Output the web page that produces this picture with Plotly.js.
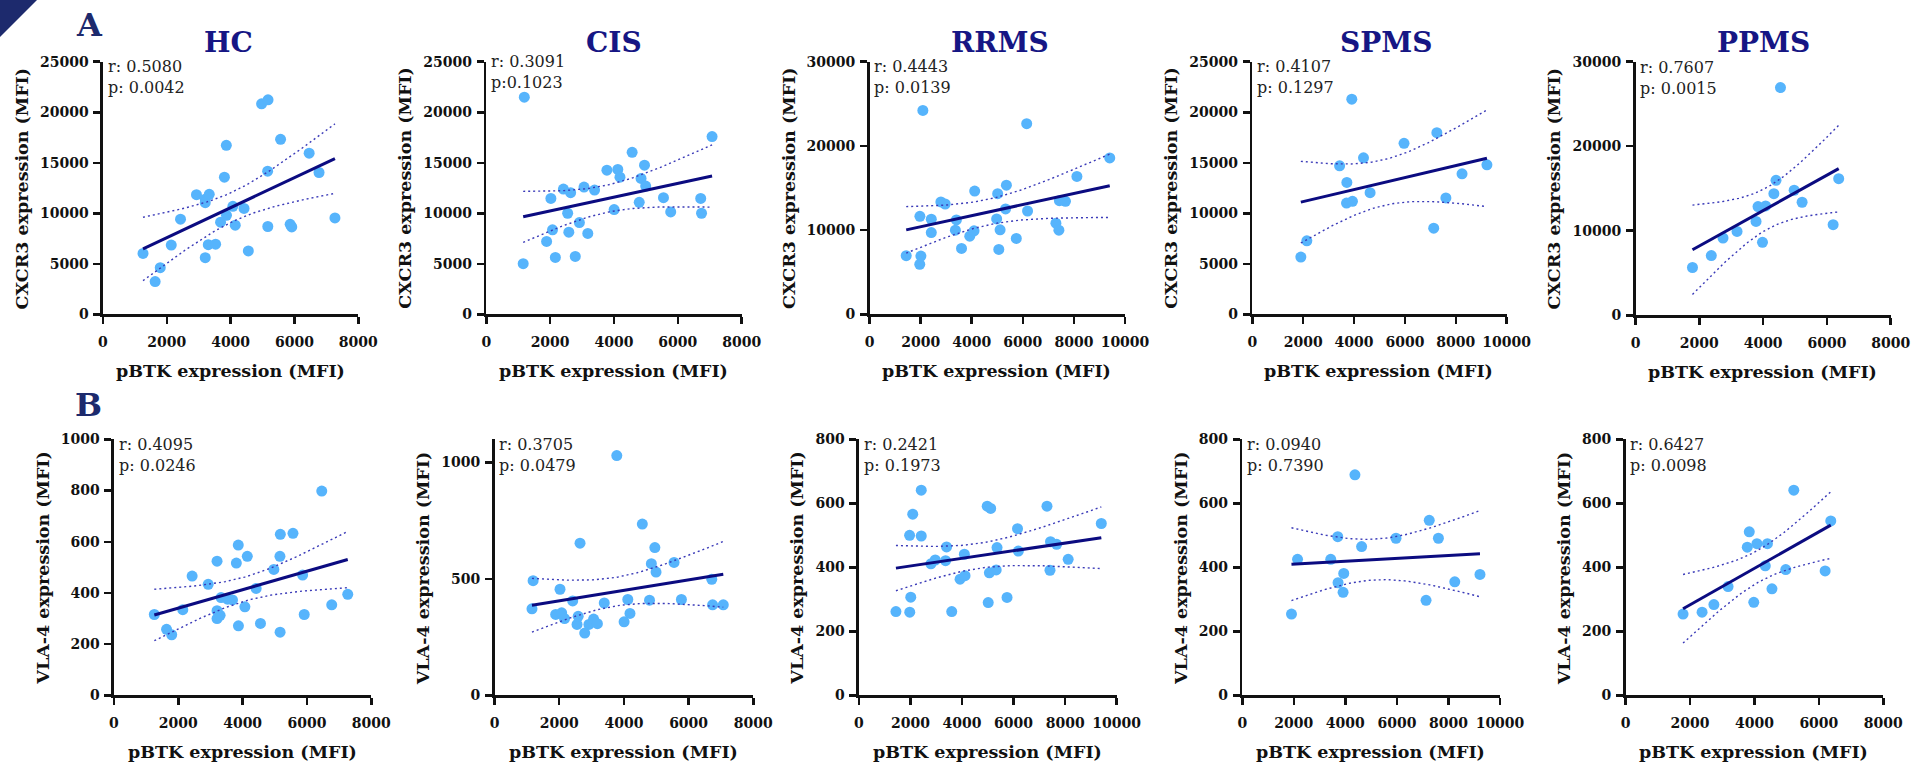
<!DOCTYPE html>
<html>
<head>
<meta charset="utf-8">
<script src="https://cdn.plot.ly/plotly-3.0.1.min.js"></script>
<style>html,body{margin:0;padding:0;background:#fff;}#chart{width:1911px;height:764px;}</style>
</head>
<body>
<div id="chart"></div>
<script>
// ---------------- DATA ----------------
const groupTitles = ['HC', 'CIS', 'RRMS', 'SPMS', 'PPMS'];

const hcPBTK  = [1255,1635,1795,2140,2430,2930,3205,3205,3205,3300,3330,3530,3685,3805,3865,3870,4070,4145,4420,4555,4970,5160,5165,5172,5565,5865,5915,6460,6770,7268];
const hcCXCR3 = [6040,3250,4630,6860,9420,11850,11400,11050,5620,6900,11880,6950,9130,13580,16730,9810,10700,8830,10490,6280,20830,14170,8700,21230,17320,8920,8660,15950,14040,9550];
const hcVLA4  = [316,258,237,335,466,434,524,331,300,313,382,376,373,517,587,272,346,543,418,281,492,543,247,629,633,470,316,798,354,395];

const cisPBTK  = [1157,1192,1890,2024,2075,2164,2416,2550,2586,2643,2788,2917,3062,3180,3392,3779,4005,4120,4187,4569,4791,4848,4956,4993,5550,5777,6716,6742,7072];
const cisCXCR3 = [5020,21490,7220,11480,8370,5640,12400,10010,8140,12040,5740,9090,12600,8010,12300,14270,10370,14340,13580,16040,11090,13450,14770,12700,11550,10140,11480,10010,17590];
const cisVLA4  = [372,493,348,456,355,330,406,305,340,654,268,305,328,308,397,1030,316,412,352,736,409,566,635,530,571,412,499,389,389];

const rrmsPBTK  = [1435,1965,1971,2010,2087,2417,2417,2792,2960,3360,3399,3600,3923,4090,4116,4976,5015,5060,5111,5325,5357,5745,6152,6185,7295,7412,7432,7670,8117,9403];
const rrmsCXCR3 = [6970,5950,11650,6930,24210,11300,9720,13350,13110,10000,11220,7840,9290,9920,14650,11340,14330,7720,10040,12520,15350,9020,22640,12280,10830,10000,13500,13430,16380,18580];
const rrmsVLA4  = [262,500,260,307,566,641,498,411,423,421,464,262,363,441,374,591,290,383,584,392,462,306,521,451,591,391,480,472,425,537];

const spmsPBTK  = [1910,2145,3433,3705,3718,3912,3938,4372,4631,5965,7131,7255,7610,8245,9223];
const spmsCXCR3 = [5680,7280,14700,11020,13060,21290,11190,15490,12040,16930,8530,17980,11520,13910,14800];
const spmsVLA4  = [254,425,425,496,352,322,381,689,465,491,297,547,491,355,378];

const ppmsPBTK  = [1785,2375,2742,3182,3778,3840,3980,4078,4337,4404,4544,4973,5222,6195,6370];
const ppmsCXCR3 = [5650,7060,9140,9920,11100,12860,8630,12940,14390,15960,26940,14790,13370,10710,16160];
const ppmsVLA4  = [254,260,284,340,463,511,291,474,405,474,333,393,641,389,545];

const rLabels = ['r: 0.5080','r: 0.3091','r: 0.4443','r: 0.4107','r: 0.7607','r: 0.4095','r: 0.3705','r: 0.2421','r: 0.0940','r: 0.6427'];
const pLabels = ['p: 0.0042','p:0.1023','p: 0.0139','p: 0.1297','p: 0.0015','p: 0.0246','p: 0.0479','p: 0.1973','p: 0.7390','p: 0.0098'];

const xTitle = 'pBTK expression (MFI)';
const yTitles = ['CXCR3 expression (MFI)', 'VLA-4 expression (MFI)'];

const xMax = [8000, 8000, 10000, 10000, 8000, 8000, 8000, 10000, 10000, 8000];
const yMax = [25000, 25000, 30000, 25000, 30000, 1000, 1100, 800, 800, 800];
const yStep = [5000, 5000, 10000, 5000, 10000, 200, 500, 200, 200, 200];

// two-sided 95% t critical values by degrees of freedom
const tCrit = {12: 2.1788, 13: 2.1604, 26: 2.0555, 27: 2.0518, 28: 2.0484};

// ---------------- LAYOUT HELPERS ----------------
const W = 1911, H = 764;
const px = v => v / W;
const py = v => 1 - v / H;

// plot boxes in pixels: [axisLeft, axisRight, axisTop, axisBottom]
const boxes = [
  [101.7, 358.3, 61.7, 315.7], [485, 741.7, 61.7, 315.7], [868.3, 1125, 61.7, 315.7],
  [1251, 1506.7, 61.7, 315.7], [1634.3, 1890.7, 61.7, 316.5],
  [112.7, 371.3, 439.3, 696.7], [493.3, 753.3, 439.3, 696.7], [857.7, 1116.7, 439.3, 696.7],
  [1241, 1500, 439.3, 696.7], [1624.3, 1883.3, 439.3, 696.7]
];
const yTitleOffset = [80, 80, 80, 80, 80, 70, 70, 61, 60, 60];
const titleX = [228, 614, 1000, 1386, 1763];
const statsTop = [5, 0, 5, 5, 6, 5, 5, 5, 5, 5];

const datasets = [
  [hcPBTK, hcCXCR3], [cisPBTK, cisCXCR3], [rrmsPBTK, rrmsCXCR3], [spmsPBTK, spmsCXCR3], [ppmsPBTK, ppmsCXCR3],
  [hcPBTK, hcVLA4], [cisPBTK, cisVLA4], [rrmsPBTK, rrmsVLA4], [spmsPBTK, spmsVLA4], [ppmsPBTK, ppmsVLA4]
];

function linearFit(xs, ys) {
  const n = xs.length;
  const mx = xs.reduce((a, b) => a + b, 0) / n;
  const my = ys.reduce((a, b) => a + b, 0) / n;
  let sxx = 0, sxy = 0;
  for (let i = 0; i < n; i++) { sxx += (xs[i] - mx) ** 2; sxy += (xs[i] - mx) * (ys[i] - my); }
  const b = sxy / sxx, a = my - b * mx;
  let ssr = 0;
  for (let i = 0; i < n; i++) ssr += (ys[i] - a - b * xs[i]) ** 2;
  const s = Math.sqrt(ssr / (n - 2));
  const t = tCrit[n - 2] || 2.05;
  const lo = Math.min(...xs), hi = Math.max(...xs);
  const gx = [], gy = [], up = [], dn = [];
  const steps = 60;
  for (let k = 0; k <= steps; k++) {
    const x = lo + (hi - lo) * k / steps;
    const yh = a + b * x;
    const se = s * Math.sqrt(1 / n + (x - mx) ** 2 / sxx);
    gx.push(x); gy.push(yh); up.push(yh + t * se); dn.push(yh - t * se);
  }
  return {gx, gy, up, dn};
}

const FONT = 'DejaVu Serif, Liberation Serif, serif';
const AXC = '#111111';
const traces = [];
const layout = {
  width: W, height: H,
  margin: {l: 0, r: 0, t: 0, b: 0},
  paper_bgcolor: '#ffffff', plot_bgcolor: '#ffffff',
  showlegend: false,
  annotations: [],
  shapes: [{
    type: 'path', xref: 'paper', yref: 'paper',
    path: `M 0 1 L ${px(37)} 1 L 0 ${py(37)} Z`,
    fillcolor: '#1d2a6d', line: {width: 0}
  }]
};

function ann(text, x, y, opts) {
  layout.annotations.push(Object.assign({
    text, x: px(x), y: py(y), xref: 'paper', yref: 'paper', showarrow: false,
    xanchor: 'center', yanchor: 'middle'
  }, opts));
}

datasets.forEach(([xs, ys], i) => {
  const [L, R, T, B] = boxes[i];
  const xa = i === 0 ? 'xaxis' : 'xaxis' + (i + 1);
  const ya = i === 0 ? 'yaxis' : 'yaxis' + (i + 1);
  const xr = i === 0 ? 'x' : 'x' + (i + 1);
  const yr = i === 0 ? 'y' : 'y' + (i + 1);
  const common = {
    showline: true, linewidth: 2.5, linecolor: AXC,
    ticks: 'outside', ticklen: 7, tickwidth: 2.5, tickcolor: AXC,
    showgrid: false, zeroline: false, tickformat: 'd', fixedrange: true,
    tickfont: {family: FONT, size: 14, weight: 'bold', color: AXC}
  };
  layout[xa] = Object.assign({}, common, {
    domain: [px(L + 1.25), px(R)], range: [0, xMax[i]], tick0: 0, dtick: 2000, anchor: yr,
    ticklabelstandoff: 6
  });
  layout[ya] = Object.assign({}, common, {
    domain: [py(B - 1.25), py(T)], range: [0, yMax[i]], tick0: 0, dtick: yStep[i], anchor: xr,
    ticklabelstandoff: 2
  });

  traces.push({
    type: 'scatter', mode: 'markers', x: xs, y: ys, xaxis: xr, yaxis: yr,
    marker: {size: 11, color: '#56b4fc', line: {width: 0}}, cliponaxis: false, hoverinfo: 'skip'
  });
  const f = linearFit(xs, ys);
  traces.push({
    type: 'scatter', mode: 'lines', x: f.gx, y: f.up, xaxis: xr, yaxis: yr,
    line: {color: '#3a3ab8', width: 1.4, dash: '2px,3px'}, hoverinfo: 'skip'
  });
  traces.push({
    type: 'scatter', mode: 'lines', x: f.gx, y: f.dn, xaxis: xr, yaxis: yr,
    line: {color: '#3a3ab8', width: 1.4, dash: '2px,3px'}, hoverinfo: 'skip'
  });
  traces.push({
    type: 'scatter', mode: 'lines', x: f.gx, y: f.gy, xaxis: xr, yaxis: yr,
    line: {color: '#0b0b80', width: 3}, hoverinfo: 'skip'
  });

  // stats text
  ann(rLabels[i], L + 4, T + statsTop[i], {xanchor: 'left', font: {family: FONT, size: 16, color: '#222'}});
  ann(pLabels[i], L + 4, T + statsTop[i] + 21, {xanchor: 'left', font: {family: FONT, size: 16, color: '#222'}});
  // axis titles
  ann(xTitle, (L + R) / 2, B + 55, {font: {family: FONT, size: 17.5, weight: 'bold', color: AXC}});
  ann(yTitles[i < 5 ? 0 : 1], L - yTitleOffset[i], (T + B) / 2,
      {textangle: -90, font: {family: FONT, size: 17.5, weight: 'bold', color: AXC}});
  // group titles
  if (i < 5) {
    ann(groupTitles[i], titleX[i], 42, {font: {family: FONT, size: 28, weight: 'bold', color: '#161684'}});
  }
});

ann('A', 89, 25, {font: {family: FONT, size: 32, weight: 'bold', color: '#1d2a6d'}});
ann('B', 88, 405, {font: {family: FONT, size: 32, weight: 'bold', color: '#1d2a6d'}});

Plotly.newPlot('chart', traces, layout, {staticPlot: true, displayModeBar: false});
</script>
</body>
</html>
